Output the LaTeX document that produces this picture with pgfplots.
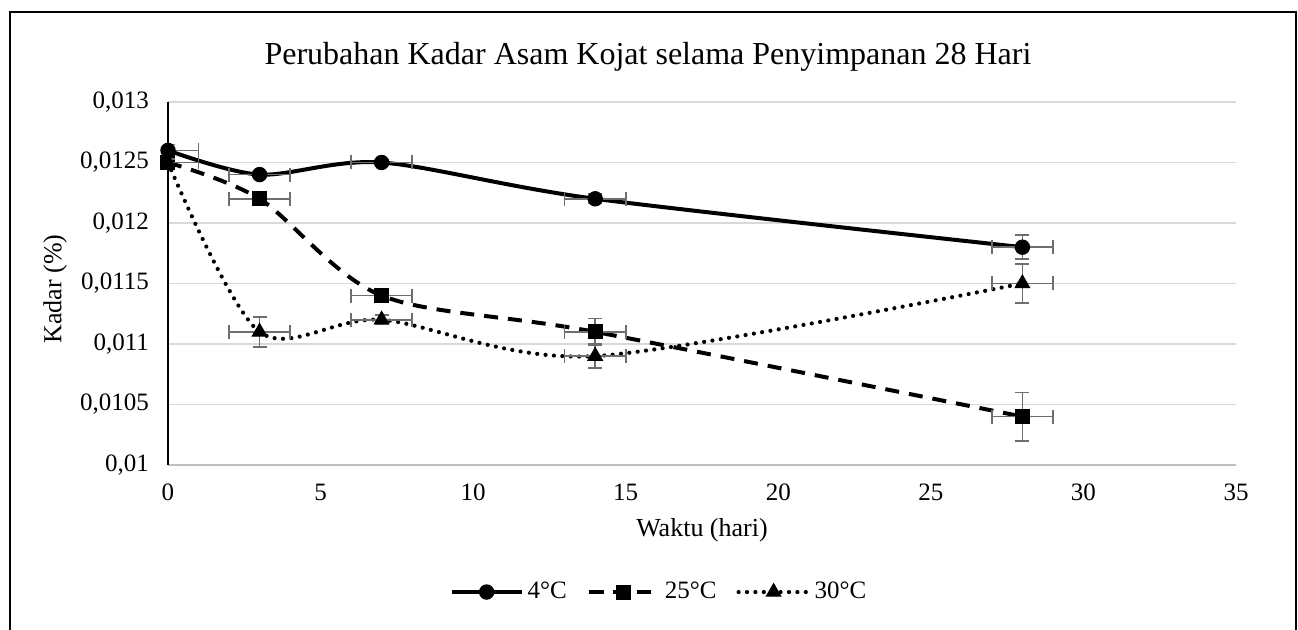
\documentclass[border=0pt]{standalone}
\usepackage{fontspec}
\setmainfont{Liberation Serif}
\usepackage{pgfplots}
\pgfplotsset{compat=1.18}
\definecolor{errgray}{HTML}{6E6E6E}
\definecolor{gridgray}{HTML}{D9D9D9}
\definecolor{axgray}{HTML}{BFBFBF}
\begin{document}
\begin{tikzpicture}[x=1pt,y=1pt]
\useasboundingbox (0,0) rectangle (649,315);
\draw[line width=1.2pt] (5,-2) -- (5,309) -- (648,309) -- (648,-2);
\begin{axis}[
  at={(84pt,82.5pt)}, anchor=south west,
  scale only axis, width=534pt, height=181.5pt,
  xmin=0, xmax=35, ymin=0.01, ymax=0.013,
  xtick={0,5,...,35},
  ytick={0.01,0.0105,0.011,0.0115,0.012,0.0125,0.013},
  yticklabels={{0,01},{0,0105},{0,011},{0,0115},{0,012},{0,0125},{0,013}},
  scaled y ticks=false,
  axis lines*=left,
  x axis line style={color=axgray, line width=0.8pt},
  y axis line style={color=black, line width=0.8pt},
  major tick length=0pt,
  ymajorgrids, grid style={gridgray, line width=0.6pt},
  /pgf/number format/assume math mode=true,
  tick label style={font=\fontsize{12.5}{15}\selectfont},
  yticklabel style={xshift=-6pt},
  xticklabel style={yshift=-6pt},
  clip mode=individual,
  legend columns=3,
  legend style={at={(0.4607,-0.35)}, anchor=center, draw=none, fill=none,
    font=\fontsize{12.5}{15}\selectfont,
    /tikz/every even column/.append style={column sep=8pt},
    inner sep=0pt},
  legend image code/.code={
    \draw[mark repeat=2,mark phase=2] plot coordinates {(0pt,0pt) (17.5pt,0pt) (35pt,0pt)};},
  error bars/error bar style={errgray, line width=0.8pt, solid},
  error bars/error mark options={errgray, line width=0.8pt, mark size=3.5pt, rotate=90, solid},
]
\addplot[black, line width=2pt, smooth, tension=0.5, solid, mark=*, mark size=3.6pt, mark options={solid, fill=black, draw=black, line width=0.5pt},
  error bars/.cd, x dir=both, x explicit, y dir=both, y explicit]
  coordinates {
  (0,0.0126) +- (1,0.00005)
  (3,0.0124) +- (1,0.00002)
  (7,0.0125) +- (1,0.00002)
  (14,0.0122) +- (1,0.00004)
  (28,0.0118) +- (1,0.0001)
  };
\addlegendentry{4°C}
\addplot[black, line width=2pt, smooth, tension=0.5, dash pattern=on 7pt off 5pt, mark=square*, mark size=3.5pt, mark options={solid, fill=black, draw=black, line width=0.5pt},
  error bars/.cd, x dir=both, x explicit, y dir=both, y explicit]
  coordinates {
  (0,0.0125) +- (1,0.00003)
  (3,0.0122) +- (1,0.00003)
  (7,0.0114) +- (1,0.00003)
  (14,0.0111) +- (1,0.00011)
  (28,0.0104) +- (1,0.0002)
  };
\addlegendentry{25°C}
\addplot[black, line width=2.1pt, smooth, tension=0.5, line cap=round, dash pattern=on 0pt off 4.2pt, mark=triangle*, mark size=4.2pt, mark options={solid, fill=black, draw=black, line width=0.5pt},
  error bars/.cd, x dir=both, x explicit, y dir=both, y explicit]
  coordinates {
  (0,0.0125) +- (1,0.00003)
  (3,0.0111) +- (1,0.000125)
  (7,0.0112) +- (1,0.00004)
  (14,0.0109) +- (1,0.0001)
  (28,0.0115) +- (1,0.00016)
  };
\addlegendentry{30°C}
\end{axis}
\node[font=\fontsize{16}{19}\selectfont] at (324,286.5) {Perubahan Kadar Asam Kojat selama Penyimpanan 28 Hari};
\node[font=\fontsize{13}{15}\selectfont] at (351,50) {Waktu (hari)};
\node[font=\fontsize{13}{15}\selectfont, rotate=90] at (27.5,170.5) {Kadar (\%)};
\end{tikzpicture}
\end{document}
